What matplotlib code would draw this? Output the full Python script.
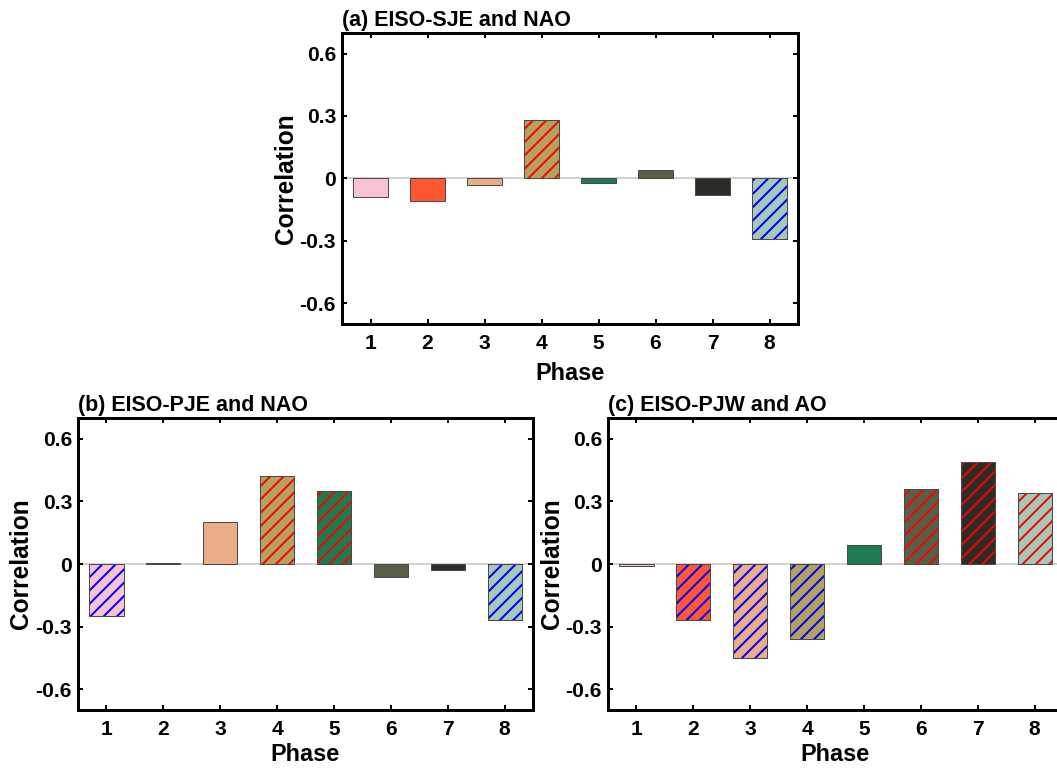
import matplotlib
matplotlib.use("Agg")
import matplotlib.pyplot as plt
import numpy as np

# ---------------- data ----------------
phases = [1, 2, 3, 4, 5, 6, 7, 8]
phase_colors = ["#F5C3D3", "#FF5733", "#E9AE87", "#B3A35E",
                "#1E7A4F", "#566048", "#2C2D26", "#A5C9B8"]

titles = ["(a) EISO-SJE and NAO", "(b) EISO-PJE and NAO", "(c) EISO-PJW and AO"]

corr_a = [-0.09, -0.11, -0.03, 0.28, -0.02, 0.04, -0.08, -0.29]
corr_b = [-0.25, 0.003, 0.20, 0.42, 0.35, -0.06, -0.03, -0.27]
corr_c = [-0.01, -0.27, -0.45, -0.36, 0.09, 0.36, 0.49, 0.34]

# significance (hatched) flags
sig_a = [0, 0, 0, 1, 0, 0, 0, 1]
sig_b = [1, 0, 0, 1, 1, 0, 0, 1]
sig_c = [0, 1, 1, 1, 0, 1, 1, 1]

yticks = [-0.6, -0.3, 0, 0.3, 0.6]
ytick_labels = ["-0.6", "-0.3", "0", "0.3", "0.6"]

# ---------------- style ----------------
DPI = 80
W, H = 1057, 768
def px(p):  # pixels -> points
    return p * 72.0 / DPI

plt.rcParams["font.family"] = ["Liberation Sans", "DejaVu Sans"]
plt.rcParams["font.weight"] = "bold"
plt.rcParams["hatch.linewidth"] = px(2.0)

fig = plt.figure(figsize=(W / DPI, H / DPI), dpi=DPI)

def fx(x):
    return x / W
def fy(y):
    return 1 - y / H

axes_px = [
    (342, 32.7, 798, 324),
    (78, 418, 533, 710),
    (608, 418, 1063, 710),
]
xlabel_pads = [9, 4, 4]

datasets = [(corr_a, sig_a), (corr_b, sig_b), (corr_c, sig_c)]

for (l, t, r, b), title, (vals, sig), lp in zip(axes_px, titles, datasets, xlabel_pads):
    ax = fig.add_axes([fx(l), fy(b), fx(r) - fx(l), fy(t) - fy(b)])
    ax.axhline(0, color="#c8c8c8", lw=px(1.6), zorder=1)
    x = np.array(phases)
    ax.bar(x, vals, width=0.6, color=phase_colors, edgecolor="#4a4a4a",
           linewidth=px(1.0), zorder=2)
    for xi, v, s in zip(x, vals, sig):
        if s:
            hc = "#FF0000" if v > 0 else "#0000FF"
            ax.bar(xi, v, width=0.6, facecolor="none", edgecolor=hc,
                   linewidth=0, hatch="//", zorder=3)
            ax.bar(xi, v, width=0.6, facecolor="none", edgecolor="#4a4a4a",
                   linewidth=px(1.0), zorder=4)
    ax.set_xlim(0.5, 8.5)
    ax.set_ylim(-0.7, 0.7)
    ax.set_xticks(phases)
    ax.set_xticklabels([str(p) for p in phases])
    ax.set_yticks(yticks)
    ax.set_yticklabels(ytick_labels)
    ax.tick_params(direction="in", top=True, right=True, length=px(5),
                   width=px(2), labelsize=px(21), pad=px(6))
    ax.tick_params(axis="x", pad=px(10))
    for sp in ax.spines.values():
        sp.set_linewidth(px(3))
    ax.set_xlabel("Phase", fontsize=px(23.5), fontweight="bold", labelpad=px(lp))
    ax.set_ylabel("Correlation", fontsize=px(24.5), fontweight="bold", labelpad=px(2))
    ax.set_title(title, loc="left", fontsize=px(21.5), fontweight="bold", pad=px(7))

fig.savefig("out.png", dpi=DPI)
